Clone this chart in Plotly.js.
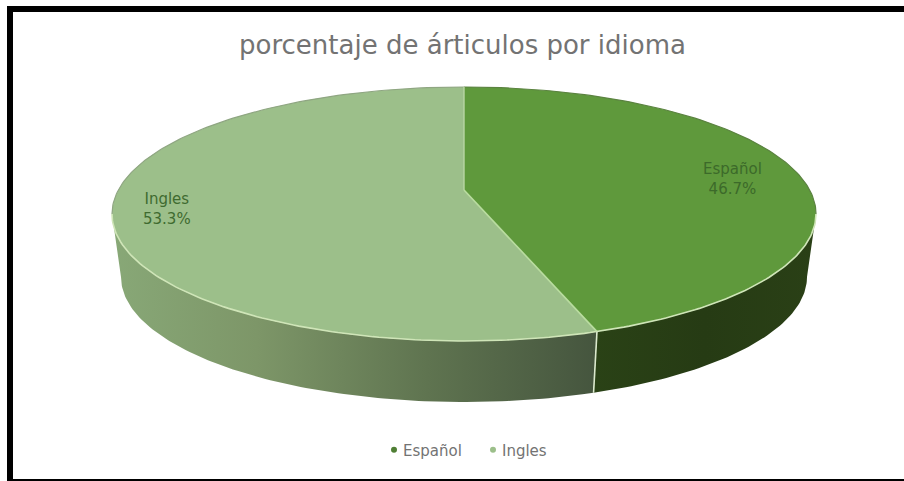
<!DOCTYPE html>
<html>
<head>
<meta charset="utf-8">
<script src="https://cdn.plot.ly/plotly-3.0.1.min.js"></script>
<style>html,body{margin:0;padding:0;background:#fff}#chart{width:904px;height:481px}</style>
</head>
<body>
<div id="chart"></div>
<script>
// Article share by language
const languages = ['Español', 'Ingles'];
const shares = [46.7, 53.3];
const chartTitle = 'porcentaje de árticulos por idioma';

const topColors = ['#5f993c', '#9cbf8a'];
const backEdge = ['#5b8340', '#8fa682'];
const wallScales = [
  [[0, '#2a4216'], [0.5, '#263b14'], [1, '#2a4016']],
  [[0, '#88a877'], [0.3, '#7d9668'], [0.65, '#5f7450'], [1, '#45553e']]
];
const labelInk = ['#3c6a2a', '#3f6b30'];
const labelSpots = [[732, 179], [167, 209]];

// Tilted disc: the upper face and the lower face are ellipses in pixel space
const topFace = {cx: 464, cy: 214, rx: 352, ry: 127};
const lowFace = {cx: 464, cy: 277, rx: 343, ry: 125};
const hub = {x: 464, y: 190};

// Front slices look wider on a tilted disc, so the sweep is eased around the rim
const eased = deg => deg + 25.6 * Math.sin(2 * deg * Math.PI / 180);

function rim(face, from, to) {
  const n = Math.max(2, Math.ceil(Math.abs(to - from)));
  const xs = [], ys = [];
  for (let i = 0; i <= n; i++) {
    const a = (from + (to - from) * i / n) * Math.PI / 180;
    xs.push(face.cx + face.rx * Math.sin(a));
    ys.push(face.cy - face.ry * Math.cos(a));
  }
  return {xs, ys};
}

const splitDeg = eased(shares[0] * 3.6);
const traces = [];

// Side walls, visible only on the near half of the disc
const wallSpans = [[90, splitDeg], [splitDeg, 270]];
wallSpans.forEach((span, i) => {
  const up = rim(topFace, span[0], span[1]);
  const down = rim(lowFace, span[1], span[0]);
  traces.push({
    type: 'scatter', mode: 'lines', showlegend: false, hoverinfo: 'skip',
    x: up.xs.concat(down.xs), y: up.ys.concat(down.ys),
    line: {width: 0}, fill: 'toself',
    fillgradient: {type: 'horizontal', colorscale: i === 1 ? wallScales[1] : wallScales[0]}
  });
});

// Upper faces of the two slices
const faceSpans = [[0, splitDeg], [splitDeg, 360]];
faceSpans.forEach((span, i) => {
  const arc = rim(topFace, span[0], span[1]);
  traces.push({
    type: 'scatter', mode: 'lines', showlegend: false, hoverinfo: 'skip',
    x: [hub.x].concat(arc.xs, [hub.x]), y: [hub.y].concat(arc.ys, [hub.y]),
    line: {width: 0}, fill: 'toself', fillcolor: topColors[i]
  });
});

// Soft darker edge along the far side of the disc
[[0, 90], [270, 360]].forEach((span, i) => {
  const arc = rim(topFace, span[0], span[1]);
  traces.push({
    type: 'scatter', mode: 'lines', showlegend: false, hoverinfo: 'skip',
    x: arc.xs, y: arc.ys, line: {color: backEdge[i], width: 1.2}
  });
});

// Pale highlights along the front rim and the slice seams
const front = rim(topFace, 90, 270);
const splitTop = rim(topFace, splitDeg, splitDeg);
const splitLow = rim(lowFace, splitDeg, splitDeg);
const seams = [
  {x: front.xs, y: front.ys, color: '#cfe5b8', width: 1.6},
  {x: [hub.x, splitTop.xs[0]], y: [hub.y, splitTop.ys[0]], color: '#b9dc9f', width: 1.6},
  {x: [hub.x, hub.x], y: [hub.y, topFace.cy - topFace.ry], color: '#b9d6a4', width: 1.4},
  {x: [splitTop.xs[0], splitLow.xs[0]], y: [splitTop.ys[0], splitLow.ys[0]], color: '#dbe9cd', width: 1.6}
];
seams.forEach(s => traces.push({
  type: 'scatter', mode: 'lines', showlegend: false, hoverinfo: 'skip',
  x: s.x, y: s.y, line: {color: s.color, width: s.width}
}));

// Legend entries
languages.forEach((name, i) => traces.push({
  type: 'scatter', mode: 'markers', name: name, x: [null], y: [null],
  marker: {color: i === 0 ? '#4f7f34' : topColors[1], size: 6}
}));

const annotations = languages.map((name, i) => ({
  x: labelSpots[i][0], y: labelSpots[i][1], xref: 'x', yref: 'y', showarrow: false,
  text: name + '<br>' + shares[i].toFixed(1) + '%',
  align: 'center',
  font: {family: 'DejaVu Sans, sans-serif', size: 15, color: labelInk[i]}
}));

// Picture frame: heavy left and top rules, thin bottom rule
const bar = (x0, y0, x1, y1) => ({
  type: 'rect', xref: 'x', yref: 'y', x0, y0, x1, y1, line: {width: 0}, fillcolor: '#000', layer: 'above'
});

const layout = {
  width: 904, height: 481,
  margin: {l: 0, r: 0, t: 0, b: 0},
  paper_bgcolor: '#fff', plot_bgcolor: '#fff',
  title: {
    text: chartTitle, x: 462.5 / 904, xanchor: 'center', y: 1 - 45 / 481, yanchor: 'middle',
    font: {family: 'DejaVu Sans, sans-serif', size: 26, color: '#737373'}
  },
  xaxis: {visible: false, range: [0, 904], fixedrange: true},
  yaxis: {visible: false, range: [481, 0], fixedrange: true},
  showlegend: true,
  legend: {
    orientation: 'h', x: 363 / 904, xanchor: 'left', y: 1 - 450 / 481, yanchor: 'middle',
    entrywidth: 54, entrywidthmode: 'pixels',
    font: {family: 'DejaVu Sans, sans-serif', size: 15, color: '#737373'}, bgcolor: 'rgba(0,0,0,0)'
  },
  annotations: annotations,
  shapes: [bar(7, 6, 904, 12), bar(7, 6, 13, 481), bar(7, 479, 904, 481)]
};

Plotly.newPlot('chart', traces, layout, {displayModeBar: false, staticPlot: true}).then(() => {
  // Pull each legend dot closer to its label
  document.querySelectorAll('#chart .legend .legendsymbols').forEach(g => g.setAttribute('transform', 'translate(11,0)'));
});
</script>
</body>
</html>
